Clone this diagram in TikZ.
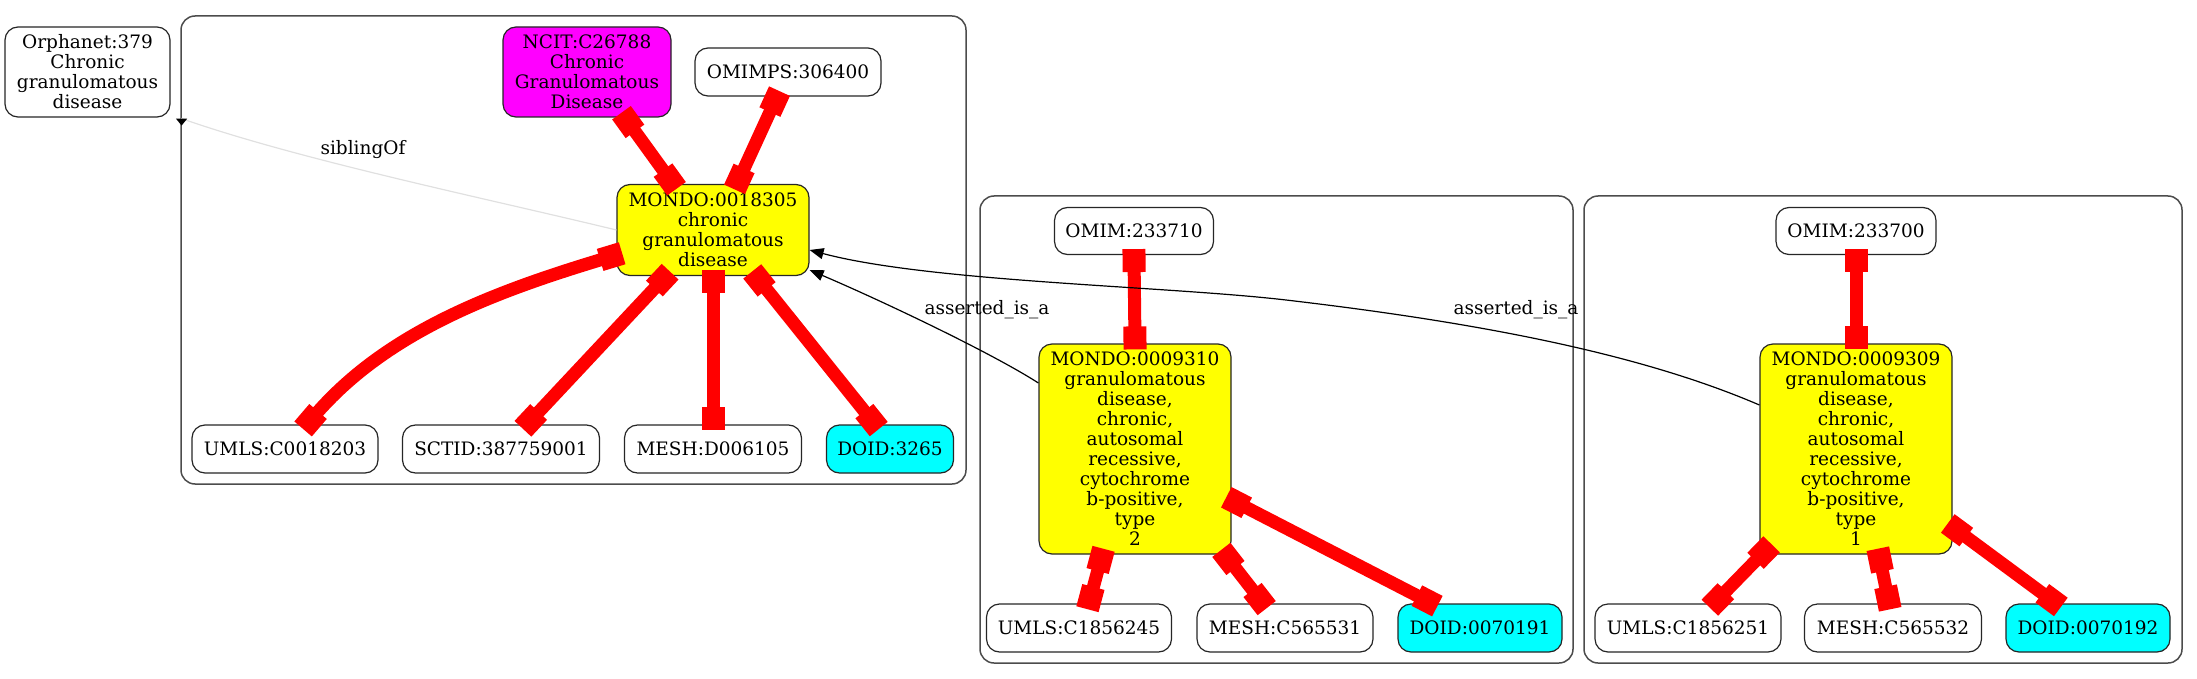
\documentclass[tikz,border=0pt]{standalone}
\usepackage{fontspec}
\setmainfont{DejaVu Serif}
\usetikzlibrary{arrows.meta,calc}
\definecolor{gvyellow}{RGB}{255,255,0}
\definecolor{gvmagenta}{RGB}{255,0,255}
\definecolor{gvcyan}{RGB}{0,255,255}
\definecolor{gvred}{RGB}{255,0,0}
\begin{document}
\begin{tikzpicture}[x=1pt,y=-1pt,
  txt/.style={font=\fontsize{18.5}{20}\selectfont},
  nd/.style={txt, draw=black!85, line width=1.2pt, rounded corners=13pt, fill=white, align=center, inner sep=0pt},
  yel/.style={nd, fill=gvyellow},
  mag/.style={nd, fill=gvmagenta},
  cya/.style={nd, fill=gvcyan},
  cl/.style={draw=black!70, line width=1.5pt, rounded corners=14pt},
  redge/.style={draw=gvred, line width=13pt, {Square[length=23pt,width=23pt]}-{Square[length=23pt,width=23pt]}, shorten <=-6pt, shorten >=-6pt},
  bedge/.style={draw=black, line width=1.2pt, -{Triangle[length=14pt,width=11pt]}},
  sedge/.style={draw=black!12, line width=1.2pt, -{Triangle[length=7pt,width=11pt,color=black]}},
  lab/.style={txt, inner sep=0pt}]
\useasboundingbox (0,0) rectangle (2197,679);
% clusters
\draw[cl] (181,16) rectangle (966,484);
\draw[cl] (980,196) rectangle (1573,663);
\draw[cl] (1584,196) rectangle (2182,663);
% nodes
\node[nd, minimum width=165pt, minimum height=90pt] (orph) at (87.5,72) {Orphanet:379\\Chronic\\granulomatous\\disease};
\node[mag, minimum width=168pt, minimum height=90pt] (ncit) at (587,72) {NCIT:C26788\\Chronic\\Granulomatous\\Disease};
\node[nd, minimum width=186pt, minimum height=48pt] (omimps) at (788,72) {OMIMPS:306400};
\node[yel, minimum width=192pt, minimum height=91pt] (m18305) at (713,230) {MONDO:0018305\\chronic\\granulomatous\\disease};
\node[nd, minimum width=186pt, minimum height=48pt] (umls1) at (285,449) {UMLS:C0018203};
\node[nd, minimum width=197pt, minimum height=48pt] (sctid) at (501,449) {SCTID:387759001};
\node[nd, minimum width=177pt, minimum height=48pt] (mesh1) at (713,449) {MESH:D006105};
\node[cya, minimum width=127pt, minimum height=48pt] (doid1) at (890,449) {DOID:3265};
\node[nd, minimum width=159pt, minimum height=47pt] (omim2) at (1134,231) {OMIM:233710};
\node[yel, minimum width=192pt, minimum height=210pt] (m9310) at (1135,449) {MONDO:0009310\\granulomatous\\disease,\\chronic,\\autosomal\\recessive,\\cytochrome\\b-positive,\\type\\2};
\node[nd, minimum width=185pt, minimum height=48pt] (umls2) at (1079,628) {UMLS:C1856245};
\node[nd, minimum width=176pt, minimum height=48pt] (mesh2) at (1285,628) {MESH:C565531};
\node[cya, minimum width=164pt, minimum height=48pt] (doid2) at (1480,628) {DOID:0070191};
\node[nd, minimum width=160pt, minimum height=47pt] (omim3) at (1856,231) {OMIM:233700};
\node[yel, minimum width=192pt, minimum height=210pt] (m9309) at (1856,449) {MONDO:0009309\\granulomatous\\disease,\\chronic,\\autosomal\\recessive,\\cytochrome\\b-positive,\\type\\1};
\node[nd, minimum width=186pt, minimum height=48pt] (umls3) at (1688,628) {UMLS:C1856251};
\node[nd, minimum width=177pt, minimum height=48pt] (mesh3) at (1893,628) {MESH:C565532};
\node[cya, minimum width=164pt, minimum height=48pt] (doid3) at (2088,628) {DOID:0070192};
% labels
\node[lab] (lsib) at (363,150) {siblingOf};
\node[lab] (la1) at (987,310) {asserted\_is\_a};
\node[lab] (la2) at (1516,310) {asserted\_is\_a};
% red edges, cluster 1
\draw[redge] ($(ncit.south)+(38,0)$) -- ($(m18305.north)+(-40,0)$);
\draw[redge] ($(omimps.south)+(-11,0)$) -- ($(m18305.north)+(24,0)$);
\draw[redge] ($(m18305.west)+(0,25)$) .. controls (497,291) and (387,331) .. ($(umls1.north)+(22,0)$);
\draw[redge] ($(m18305.south)+(-47,0)$) -- ($(sctid.north)+(26,0)$);
\draw[redge] (m18305.south) -- (mesh1.north);
\draw[redge] ($(m18305.south)+(43,0)$) -- ($(doid1.north)+(-15,0)$);
% cluster 2
\draw[redge] (omim2.south) -- (m9310.north);
\draw[redge] ($(m9310.south)+(-33,0)$) -- ($(umls2.north)+(10,0)$);
\draw[redge] ($(m9310.south)+(90,0)$) -- ($(mesh2.north)+(-22,0)$);
\draw[redge] ($(m9310.east)+(0,51)$) -- ($(doid2.north)+(-48,0)$);
% cluster 3
\draw[redge] (omim3.south) -- (m9309.north);
\draw[redge] ($(m9309.south west)+(8,-6)$) -- ($(umls3.north)+(26,0)$);
\draw[redge] ($(m9309.south)+(23,0)$) -- ($(mesh3.north)+(-4,0)$);
\draw[redge] ($(m9309.east)+(0,78)$) -- ($(doid3.north)+(-32,0)$);
% black edges
\draw[bedge] ($(m9310.west)+(0,-66)$) .. controls (990,352) and (880,300) .. ($(m18305.east)+(0,40)$);
\draw[bedge] ($(m9309.west)+(0,-44)$) .. controls (1650,358) and (1500,325) .. (1286,300) .. controls (1166,286) and (930,282) .. ($(m18305.east)+(0,20)$);
\draw[sedge] (m18305.west) .. controls (480,197) and (300,160) .. ($(orph.south east)+(11,1)$) -- ($(orph.south east)+(11,8)$);
\end{tikzpicture}
\end{document}
